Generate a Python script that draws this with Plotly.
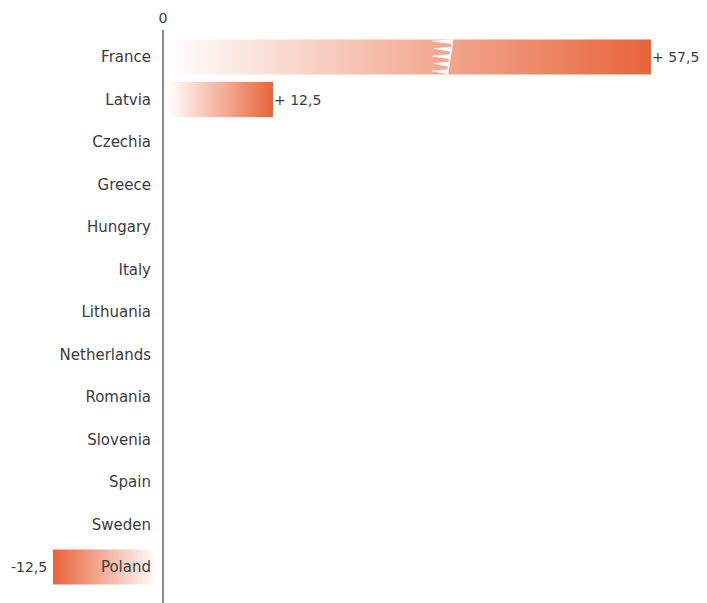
import plotly.graph_objects as go

categories = ["France", "Latvia", "Czechia", "Greece", "Hungary", "Italy", "Lithuania",
              "Netherlands", "Romania", "Slovenia", "Spain", "Sweden", "Poland"]
values = [57.5, 12.5, 0, 0, 0, 0, 0, 0, 0, 0, 0, 0, -12.5]
value_labels = ["+ 57,5", "+ 12,5", "", "", "", "", "", "", "", "", "", "", "-12,5"]
broken = ["France"]

ORANGE = "#E8643A"
TEXT = "#3b3b3b"
FONT = "DejaVu Sans"
FS = 15
VFS = 14
OFF = 8  # page body margin
W, H = 707 - OFF, 603 - OFF
ZERO_PX = 163 - OFF
TOP_PX = 30 - OFF
ROW0_PX = 57 - OFF
SCALE = 8.4  # px per unit
GAP = 5 / SCALE
HALF = 0.41
PITCH = 42.5

x_range = [-ZERO_PX / SCALE, (W - ZERO_PX) / SCALE]
y_top = -(ROW0_PX - TOP_PX) / PITCH
y_bot = (H - ROW0_PX) / PITCH

fig = go.Figure()

for i, (cat, v) in enumerate(zip(categories, values)):
    if v == 0:
        continue
    if v > 0:
        x0, x1 = GAP, v + GAP
        cs = [[0, "rgba(255,255,255,1)"], [1, ORANGE]]
    else:
        x0, x1 = v - GAP, -GAP
        cs = [[0, ORANGE], [1, "rgba(255,255,255,1)"]]
    fig.add_trace(go.Scatter(
        x=[x0, x1, x1, x0, x0], y=[i - HALF, i - HALF, i + HALF, i + HALF, i - HALF],
        mode="lines", line=dict(width=0), fill="toself",
        fillgradient=dict(type="horizontal", colorscale=cs),
        hoverinfo="skip", showlegend=False))
    if cat in broken:
        # jagged "lightning" break drawn across the bar (decoration)
        c = (440 - 163) / SCALE
        u = 1 / SCALE
        yu = 2 * HALF / 35.0
        top = i - HALF
        sx, sy = [], []
        lx, ly = [], []
        n = 5
        for k in range(n):
            yk = k * 7.5
            rx = 13 - 1.2 * k
            tip = -8 + (k % 2) * 2
            tri = [(rx, yk), (tip, yk + 1.5), (rx - 1, yk + 4.5), (rx, yk)]
            for px, py in tri:
                sx.append(c + px * u)
                sy.append(top + min(py, 35) * yu)
            sx.append(None)
            sy.append(None)
            lx.append(c + (rx - 0.5) * u)
            ly.append(top + min(yk + 4, 35) * yu)
            lx.append(c + (rx - 1.5) * u)
            ly.append(top + min(yk + 7.5, 35) * yu)
        fig.add_trace(go.Scatter(x=sx, y=sy, mode="lines", line=dict(width=0.5, color="white"),
                                 fill="toself", fillcolor="white", hoverinfo="skip",
                                 showlegend=False))
        fig.add_trace(go.Scatter(x=lx, y=ly, mode="lines", line=dict(width=1.5, color="white"),
                                 hoverinfo="skip", showlegend=False))

for i, (v, lab) in enumerate(zip(values, value_labels)):
    if not lab:
        continue
    if v > 0:
        fig.add_annotation(x=v + GAP, y=i, text=lab, showarrow=False, xanchor="left",
                           xshift=-1, font=dict(family=FONT, size=VFS, color=TEXT))
    else:
        fig.add_annotation(x=v - GAP, y=i, text=lab, showarrow=False, xanchor="right",
                           xshift=-4, font=dict(family=FONT, size=VFS, color=TEXT))

fig.update_layout(
    width=W, height=H,
    margin=dict(l=0, r=0, t=TOP_PX, b=0, autoexpand=False),
    paper_bgcolor="white", plot_bgcolor="white",
    font=dict(family=FONT, size=FS, color=TEXT),
    xaxis=dict(range=x_range, side="top", tickvals=[0], ticktext=["0"], showgrid=False,
               zeroline=False, showline=False, ticks="", domain=[0, 1], automargin=False,
               ticklabelstandoff=3,
               tickfont=dict(family=FONT, size=VFS, color=TEXT)),
    yaxis=dict(range=[y_bot, y_top], tickvals=list(range(len(categories))),
               ticktext=categories, showgrid=False, zeroline=False, showline=True,
               linecolor="#8a8a8a", linewidth=2, ticks="", anchor="free",
               position=ZERO_PX / W, ticklabelstandoff=8, automargin=False,
               tickfont=dict(family=FONT, size=FS, color=TEXT)),
)

fig.write_html("out.html")
